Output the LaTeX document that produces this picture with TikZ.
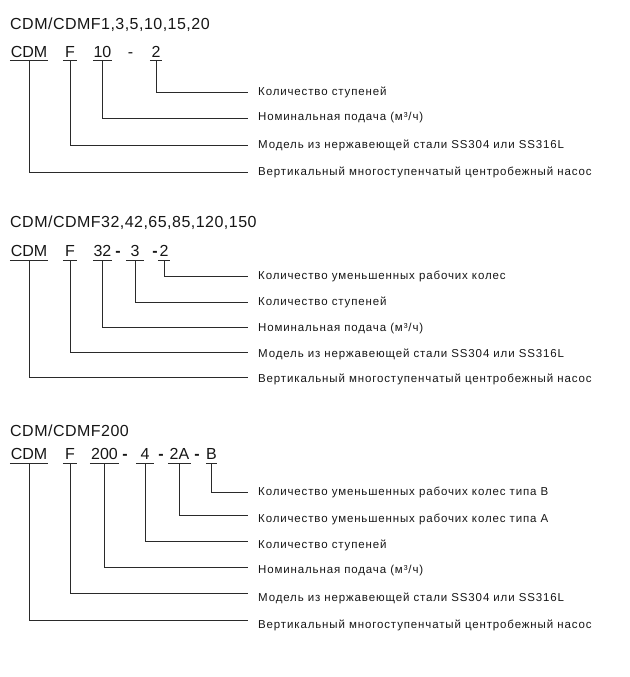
\documentclass[tikz,border=0pt]{standalone}
\usepackage{fontspec}
\setmainfont{Liberation Sans}
\newfontfamily\labfont[LetterSpace=7.5]{Liberation Sans}
\newfontfamily\titfont[LetterSpace=3]{Liberation Sans}
\definecolor{ink}{HTML}{161616}
\definecolor{wire}{HTML}{2A2A2A}
\begin{document}
\begin{tikzpicture}[x=1pt,y=-1pt,
  titletext/.style={anchor=base west, inner sep=0pt, text=ink, font=\titfont\fontsize{16}{18}\selectfont},
  codetok/.style={anchor=base, inner sep=0pt, text=ink, minimum width=#1, font=\fontsize{16}{18}\selectfont},
  hyph/.style={anchor=base, inner sep=0pt, text=ink, font=\fontsize{16}{18}\selectfont},
  boldhyph/.style={hyph, font=\bfseries\fontsize{16}{18}\selectfont},
  labeltext/.style={anchor=west, inner sep=0pt, text=ink, font=\labfont\fontsize{11.5}{13}\selectfont},
  uline/.style={draw=wire, line width=0.9pt},
  conn/.style={draw=wire, line width=0.9pt},
]
\useasboundingbox (0,0) rectangle (629,677);

% ---------- Section 1 ----------
\node[titletext] (t1) at (10,29.3) {CDM/CDMF1,3,5,10,15,20};
\node[codetok=38] (a1) at (29,57.3) {CDM};
\node[codetok=14] (a2) at (70,57.3) {F};
\node[codetok=19] (a3) at (102.5,57.3) {10};
\node[hyph] (ad1) at (130.5,57.3) {-};
\node[codetok=12] (a4) at (156,57.3) {2};
\foreach \n in {a1,a2,a3,a4}
  \draw[uline] ([yshift=-3.4pt]\n.base west) -- ([yshift=-3.4pt]\n.base east);
\node[labeltext] (la4) at (258,92) {Количество ступеней};
\node[labeltext] (la3) at (258,118) {Номинальная подача (м³/ч)};
\node[labeltext] (la2) at (258,145) {Модель из нержавеющей стали SS304 или SS316L};
\node[labeltext] (la1) at (258,172) {Вертикальный многоступенчатый центробежный насос};
\foreach \n in {1,2,3,4}
  \draw[conn] ([yshift=-3.4pt]a\n.base) |- ([xshift=-10pt]la\n.west);

% ---------- Section 2 ----------
\node[titletext] (t2) at (10,227.7) {CDM/CDMF32,42,65,85,120,150};
\node[codetok=38] (b1) at (29,256.6) {CDM};
\node[codetok=14] (b2) at (70,256.6) {F};
\node[codetok=19] (b3) at (102.5,256.6) {32};
\node[boldhyph] (bd1) at (118,256.6) {-};
\node[codetok=18] (b4) at (135,256.6) {3};
\node[boldhyph] (bd2) at (155,256.6) {-};
\node[codetok=12] (b5) at (164,256.6) {2};
\foreach \n in {b1,b2,b3,b4,b5}
  \draw[uline] ([yshift=-3.4pt]\n.base west) -- ([yshift=-3.4pt]\n.base east);
\node[labeltext] (lb5) at (258,276.7) {Количество уменьшенных рабочих колес};
\node[labeltext] (lb4) at (258,302) {Количество ступеней};
\node[labeltext] (lb3) at (258,328.3) {Номинальная подача (м³/ч)};
\node[labeltext] (lb2) at (258,354.3) {Модель из нержавеющей стали SS304 или SS316L};
\node[labeltext] (lb1) at (258,379.6) {Вертикальный многоступенчатый центробежный насос};
\draw[conn] ([yshift=-3.4pt]b5.base) |- ([xshift=-10pt]lb5.west);
\draw[conn] ([yshift=-3.4pt]b4.base) |- ([xshift=-10pt]lb4.west);
\draw[conn] ([yshift=-3.4pt]b3.base) |- ([xshift=-10pt,yshift=1pt]lb3.west);
\draw[conn] ([yshift=-3.4pt]b2.base) |- ([xshift=-10pt,yshift=2pt]lb2.west);
\draw[conn] ([yshift=-3.4pt]b1.base) |- ([xshift=-10pt,yshift=2pt]lb1.west);

% ---------- Section 3 ----------
\node[titletext] (t3) at (10,436) {CDM/CDMF200};
\node[codetok=38] (c1) at (29,459.6) {CDM};
\node[codetok=14] (c2) at (70,459.6) {F};
\node[codetok=29] (c3) at (104.5,459.6) {200};
\node[boldhyph] (cd1) at (125,459.6) {-};
\node[codetok=18] (c4) at (145,459.6) {4};
\node[boldhyph] (cd2) at (161,459.6) {-};
\node[codetok=23] (c5) at (179.5,459.6) {2A};
\node[boldhyph] (cd3) at (197,459.6) {-};
\node[codetok=11] (c6) at (211.5,459.6) {B};
\foreach \n in {c1,c2,c3,c4,c5,c6}
  \draw[uline] ([yshift=-3.4pt]\n.base west) -- ([yshift=-3.4pt]\n.base east);
\node[labeltext] (lc6) at (258,492) {Количество уменьшенных рабочих колес типа B};
\node[labeltext] (lc5) at (258,519) {Количество уменьшенных рабочих колес типа A};
\node[labeltext] (lc4) at (258,545.7) {Количество ступеней};
\node[labeltext] (lc3) at (258,571) {Номинальная подача (м³/ч)};
\node[labeltext] (lc2) at (258,598) {Модель из нержавеющей стали SS304 или SS316L};
\node[labeltext] (lc1) at (258,625) {Вертикальный многоступенчатый центробежный насос};
\draw[conn] ([yshift=-3.4pt]c6.base) |- ([xshift=-10pt]lc6.west);
\draw[conn] ([yshift=-3.4pt]c5.base) |- ([xshift=-10pt,yshift=4pt]lc5.west);
\draw[conn] ([yshift=-3.4pt]c4.base) |- ([xshift=-10pt,yshift=4pt]lc4.west);
\draw[conn] ([yshift=-3.4pt]c3.base) |- ([xshift=-10pt,yshift=3.7pt]lc3.west);
\draw[conn] ([yshift=-3.4pt]c2.base) |- ([xshift=-10pt,yshift=4.7pt]lc2.west);
\draw[conn] ([yshift=-3.4pt]c1.base) |- ([xshift=-10pt,yshift=5pt]lc1.west);
\end{tikzpicture}
\end{document}
